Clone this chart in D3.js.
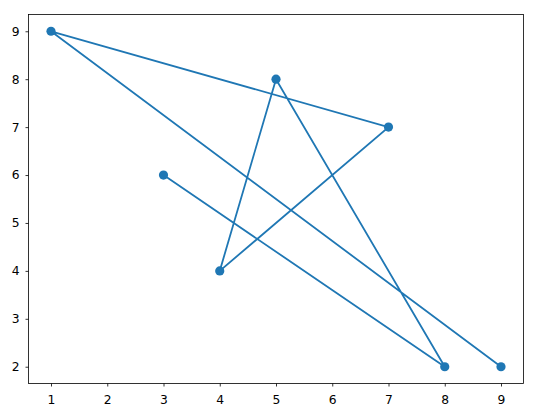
<!DOCTYPE html>
<html><head><meta charset="utf-8">
<script src="https://cdn.jsdelivr.net/npm/d3@7"></script>
<style>body{margin:0;background:#fff}</style>
</head><body>
<svg id="c" width="534" height="410"></svg>
<script>
const xValues = [3, 8, 5, 4, 7, 1, 9];
const yValues = [6, 2, 8, 4, 7, 9, 2];
const xTicks = [1, 2, 3, 4, 5, 6, 7, 8, 9];
const yTicks = [2, 3, 4, 5, 6, 7, 8, 9];
const color = "#1f77b4";

const svg = d3.select("#c");
const L = 28.5, R = 523.5, T = 14.5, B = 383.5;
const x = d3.scaleLinear().domain([0.6, 9.4]).range([L, R]);
const y = d3.scaleLinear().domain([1.65, 9.35]).range([B, T]);
const pts = xValues.map((v, i) => [v, yValues[i]]);

const font = "DejaVu Sans, sans-serif";
const gx = svg.append("g").attr("transform", `translate(0,${B})`)
  .call(d3.axisBottom(x).tickValues(xTicks).tickSize(3).tickPadding(8.5).tickFormat(d3.format("d")));
const gy = svg.append("g").attr("transform", `translate(${L},0)`)
  .call(d3.axisLeft(y).tickValues(yTicks).tickSize(3).tickPadding(6).tickFormat(d3.format("d")));
[gx, gy].forEach(g => {
  g.select(".domain").remove();
  g.selectAll("text").attr("font-family", font).attr("font-size", 12.3).attr("fill", "#000");
  g.selectAll("line").attr("stroke", "#000").attr("stroke-width", 0.8);
});

svg.append("path").datum(pts)
  .attr("d", d3.line().x(d => x(d[0])).y(d => y(d[1])))
  .attr("fill", "none").attr("stroke", color).attr("stroke-width", 1.8);
svg.selectAll("circle.p").data(pts).join("circle").attr("class", "p")
  .attr("cx", d => x(d[0])).attr("cy", d => y(d[1])).attr("r", 4.6).attr("fill", color);

svg.append("rect").attr("x", L).attr("y", T).attr("width", R - L).attr("height", B - T)
  .attr("fill", "none").attr("stroke", "#000").attr("stroke-width", 0.8);
</script>
</body></html>
